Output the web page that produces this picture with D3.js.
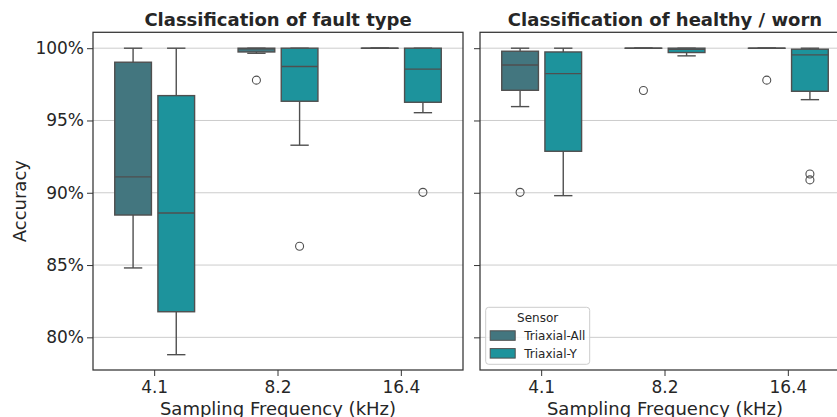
<!DOCTYPE html>
<html>
<head>
<meta charset="utf-8">
<script src="https://cdn.jsdelivr.net/npm/d3@7"></script>
<style>
  body { margin: 0; background: #fff; }
  text { font-family: "DejaVu Sans", sans-serif; fill: #262626; }
</style>
</head>
<body>
<div id="chart"></div>
<script>
// Categories
const frequencies = ["4.1", "8.2", "16.4"];
const sensors = ["Triaxial-All", "Triaxial-Y"];
const panelTitles = ["Classification of fault type", "Classification of healthy / worn"];
const yTicks = [80, 85, 90, 95, 100];

// Box stats per frequency: [low whisker, Q1, median, Q3, high whisker] (accuracy %)
const faultAll = [[84.8, 88.46, 91.1, 99.03, 100], [99.65, 99.74, 99.95, 100, 100], [100, 100, 100, 100, 100]];
const faultY   = [[78.8, 81.77, 88.6, 96.72, 100], [93.29, 96.33, 98.73, 100, 100], [95.54, 96.26, 98.55, 100, 100]];
const wornAll  = [[95.96, 97.09, 98.84, 99.79, 100], [100, 100, 100, 100, 100], [100, 100, 100, 100, 100]];
const wornY    = [[89.8, 92.87, 98.24, 99.74, 100], [99.47, 99.7, 99.92, 100, 100], [96.44, 97.02, 99.54, 99.93, 100]];

// Outliers per frequency
const faultAllOut = [[], [97.79], []];
const faultYOut   = [[], [86.3], [90.03]];
const wornAllOut  = [[90.03], [97.07], [97.79]];
const wornYOut    = [[], [], [91.3, 90.89]];

const colors = { "Triaxial-All": "#43767f", "Triaxial-Y": "#1d939c" };
const lineColor = "#4f4f4f";

const panels = [
    { title: panelTitles[0], stats: { "Triaxial-All": faultAll, "Triaxial-Y": faultY }, outliers: { "Triaxial-All": faultAllOut, "Triaxial-Y": faultYOut } },
    { title: panelTitles[1], stats: { "Triaxial-All": wornAll, "Triaxial-Y": wornY }, outliers: { "Triaxial-All": wornAllOut, "Triaxial-Y": wornYOut } }
];

const svgWidth = 837, svgHeight = 417;
const panelLeft = [93, 480];
const panelWidth = 370;
const plotTop = 32.3, plotHeight = 337.7;

const svg = d3.select("#chart").append("svg")
    .attr("width", svgWidth)
    .attr("height", svgHeight);

// Escalas
const y = d3.scaleLinear().domain([77.74, 101.1]).range([plotHeight, 0]);
const x = d3.scaleBand().domain(frequencies).range([0, panelWidth]);
const hueSpan = x.bandwidth() * 0.7;
const x1 = d3.scaleBand().domain(sensors).range([-hueSpan / 2, hueSpan / 2]);
const boxW = x1.bandwidth() * 0.85;

panels.forEach((p, pi) => {
    const g = svg.append("g").attr("transform", `translate(${panelLeft[pi]}, ${plotTop})`);

    // Grid
    g.append("g").selectAll("line").data(yTicks).join("line")
        .attr("x1", 0).attr("x2", panelWidth)
        .attr("y1", d => y(d)).attr("y2", d => y(d))
        .attr("stroke", "#cccccc").attr("stroke-width", 1);

    // Boxes
    frequencies.forEach((f, fi) => {
        sensors.forEach(s => {
            const [lo, q1, med, q3, hi] = p.stats[s][fi];
            const cx = x(f) + x.bandwidth() / 2 + x1(s) + x1.bandwidth() / 2;
            const b = g.append("g");

            b.append("line").attr("x1", cx).attr("x2", cx).attr("y1", y(hi)).attr("y2", y(q3))
                .attr("stroke", lineColor).attr("stroke-width", 1.4);
            b.append("line").attr("x1", cx).attr("x2", cx).attr("y1", y(q1)).attr("y2", y(lo))
                .attr("stroke", lineColor).attr("stroke-width", 1.4);
            [lo, hi].forEach(v => {
                b.append("line").attr("x1", cx - boxW / 4).attr("x2", cx + boxW / 4)
                    .attr("y1", y(v)).attr("y2", y(v))
                    .attr("stroke", lineColor).attr("stroke-width", 1.4);
            });
            b.append("rect")
                .attr("x", cx - boxW / 2).attr("width", boxW)
                .attr("y", y(q3)).attr("height", Math.max(0.01, y(q1) - y(q3)))
                .attr("fill", colors[s]).attr("stroke", lineColor).attr("stroke-width", 1.4);
            b.append("line").attr("x1", cx - boxW / 2).attr("x2", cx + boxW / 2)
                .attr("y1", y(med)).attr("y2", y(med))
                .attr("stroke", lineColor).attr("stroke-width", 1.4);

            b.selectAll("circle").data(p.outliers[s][fi]).join("circle")
                .attr("cx", cx).attr("cy", d => y(d)).attr("r", 4)
                .attr("fill", "none").attr("stroke", lineColor).attr("stroke-width", 1.1);
        });
    });

    // Ejes
    const yAxis = g.append("g").call(d3.axisLeft(y).tickValues(yTicks).tickSize(6)
        .tickFormat(pi === 0 ? d => d + "%" : ""));
    yAxis.select(".domain").remove();
    yAxis.selectAll(".tick line").attr("stroke", "#333");
    yAxis.selectAll(".tick text").attr("font-size", 17).attr("x", -9)
        .style("font-family", "DejaVu Sans").attr("fill", "#262626");

    const xAxis = g.append("g").attr("transform", `translate(0, ${plotHeight})`)
        .call(d3.axisBottom(x).tickSize(6).tickPadding(5));
    xAxis.select(".domain").remove();
    xAxis.selectAll(".tick line").attr("stroke", "#333");
    xAxis.selectAll(".tick text").attr("font-size", 17)
        .style("font-family", "DejaVu Sans").attr("fill", "#262626");

    // Frame
    g.append("rect").attr("width", panelWidth).attr("height", plotHeight)
        .attr("fill", "none").attr("stroke", "#333").attr("stroke-width", 1.25);

    // Title
    g.append("text").attr("x", panelWidth / 2).attr("y", -6.5)
        .attr("text-anchor", "middle").attr("font-size", 18).attr("font-weight", "bold")
        .text(p.title);

    g.append("text").attr("x", panelWidth / 2).attr("y", plotHeight + 45)
        .attr("text-anchor", "middle").attr("font-size", 18)
        .text("Sampling Frequency (kHz)");

    if (pi === 0) {
        g.append("text")
            .attr("transform", `translate(-67, ${plotHeight / 2}) rotate(-90)`)
            .attr("text-anchor", "middle").attr("font-size", 18)
            .text("Accuracy");
    }

    // Leyenda
    if (pi === 1) {
        const legend = g.append("g").attr("transform", `translate(5.7, 275)`);
        legend.append("rect").attr("width", 104).attr("height", 57).attr("rx", 3)
            .attr("fill", "white").attr("fill-opacity", 0.8)
            .attr("stroke", "#cccccc");
        legend.append("text").attr("x", 52).attr("y", 14.5).attr("text-anchor", "middle")
            .attr("font-size", 12).text("Sensor");
        sensors.forEach((s, i) => {
            legend.append("rect").attr("x", 4.5).attr("y", 23.5 + i * 17.8)
                .attr("width", 25).attr("height", 9.5)
                .attr("fill", colors[s]).attr("stroke", lineColor).attr("stroke-width", 1);
            legend.append("text").attr("x", 38.5).attr("y", 32.5 + i * 17.8)
                .attr("font-size", 12).text(s);
        });
    }
});
</script>
</body>
</html>
